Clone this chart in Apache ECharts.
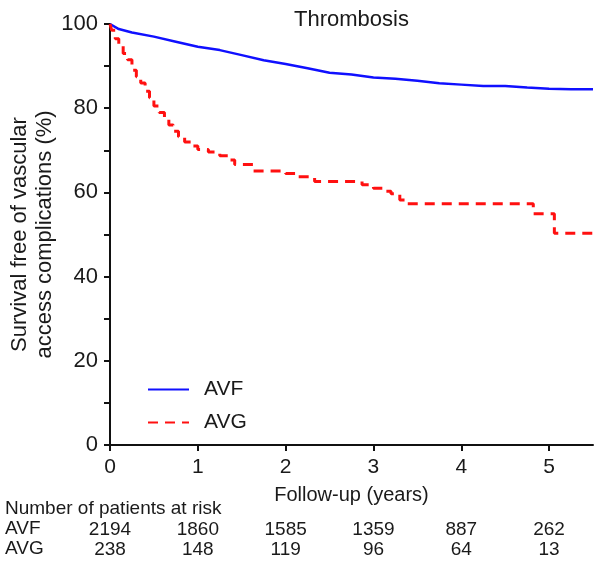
<!DOCTYPE html>
<html>
<head>
<meta charset="utf-8">
<script src="https://cdn.jsdelivr.net/npm/echarts@6/dist/echarts.min.js"></script>
<style>html,body{margin:0;padding:0;background:#fff}#c{width:596px;height:566px}</style>
</head>
<body>
<div id="c"></div>
<script>
// Kaplan-Meier curves: [years, survival %]
var avfCurve = [[0,100],[0.1,98.8],[0.25,98.0],[0.5,97.0],[0.75,95.8],[1,94.6],[1.25,93.8],[1.5,92.6],[1.75,91.4],[2,90.5],[2.25,89.5],[2.5,88.4],[2.75,88.0],[3,87.3],[3.25,87.0],[3.5,86.5],[3.75,85.9],[4,85.6],[4.25,85.3],[4.5,85.3],[4.75,84.9],[5,84.6],[5.25,84.5],[5.5,84.5]];
var avgCurve = [[0,100],[0.02,98.5],[0.06,96.5],[0.1,95],[0.15,93],[0.2,91.5],[0.25,89],[0.3,87.5],[0.35,86],[0.4,84],[0.45,82.5],[0.5,80.5],[0.56,79],[0.62,77.5],[0.67,76],[0.72,74.5],[0.78,73.2],[0.85,72],[0.93,71],[1.0,70.2],[1.12,69.6],[1.25,68.7],[1.35,67.7],[1.42,66.6],[1.63,65.1],[2.0,64.5],[2.12,63.7],[2.33,62.6],[2.87,61.8],[3.0,61.0],[3.12,60.3],[3.2,59.7],[3.3,58.2],[3.36,57.3],[4.82,54.9],[5.06,50.3],[5.5,50.3]];
var seriesNames = ['AVF','AVG'];
var riskYears = [0,1,2,3,4,5];
var riskAVF = [2194,1860,1585,1359,887,262];
var riskAVG = [238,148,119,96,64,13];

var FONT = 'Liberation Sans, Arial, sans-serif';
var TXT = '#1a1a1a';
var chart = echarts.init(document.getElementById('c'), null, {renderer:'canvas'});

function riskAxis(values, margin){
  return {
    type:'value', gridIndex:0, position:'bottom', min:0, max:5.5,
    axisLine:{show:false}, axisTick:{show:false}, splitLine:{show:false},
    axisLabel:{show:true, margin:margin, fontFamily:FONT, fontSize:19, color:TXT,
      customValues: riskYears,
      formatter:function(v){ var i = riskYears.indexOf(Math.round(v)); return (i>=0 && Math.abs(v-Math.round(v))<1e-6) ? String(values[i]) : ''; }}
  };
}

chart.setOption({
  animation:false,
  backgroundColor:'#fff',
  title:{text:'Thrombosis', left:289, top:4, textStyle:{fontFamily:FONT, fontSize:22, fontWeight:'normal', color:TXT}},
  grid:{left:110, top:24, right:3, bottom:121, containLabel:false, outerBoundsMode:'none'},
  legend:{orient:'vertical', left:142, top:374, itemWidth:41, itemHeight:20, itemGap:12,
    data:seriesNames,
    itemStyle:{opacity:0},
    textStyle:{fontFamily:FONT, fontSize:21, color:TXT, padding:[0,0,0,10]}},
  xAxis:[{
    type:'value', min:0, max:5.5, interval:1,
    name:'Follow-up (years)', nameLocation:'middle', nameGap:40, nameMoveOverlap:false,
    nameTextStyle:{fontFamily:FONT, fontSize:20, color:TXT},
    axisLine:{lineStyle:{color:'#111', width:2}},
    axisTick:{show:true, length:6, lineStyle:{color:'#111', width:2}, customValues:riskYears},
    axisLabel:{fontFamily:FONT, fontSize:21, color:TXT, margin:12, customValues:riskYears},
    splitLine:{show:false}
  }, riskAxis(riskAVF, 75), riskAxis(riskAVG, 95)],
  yAxis:{
    type:'value', min:0, max:100, interval:20,
    name:'Survival free of vascular\naccess complications (%)', nameLocation:'middle', nameGap:53, nameMoveOverlap:false,
    nameTextStyle:{fontFamily:FONT, fontSize:22, color:TXT, lineHeight:25},
    axisLine:{show:true, lineStyle:{color:'#111', width:2}},
    axisTick:{show:true, length:6, lineStyle:{color:'#111', width:2}},
    minorTick:{show:true, splitNumber:2, length:6, lineStyle:{color:'#111', width:2}},
    axisLabel:{fontFamily:FONT, fontSize:22, color:TXT, margin:12},
    splitLine:{show:false}
  },
  graphic:[
    {type:'text', left:5, top:499, style:{text:'Number of patients at risk', font:'19px '+FONT, fill:TXT}},
    {type:'text', left:5, top:519, style:{text:seriesNames[0], font:'19px '+FONT, fill:TXT}},
    {type:'text', left:5, top:539, style:{text:seriesNames[1], font:'19px '+FONT, fill:TXT}}
  ],
  series:[
    {name:seriesNames[0], type:'line', data:avfCurve, showSymbol:false, symbol:'none', smooth:false,
      lineStyle:{color:'#1010ff', width:2.5}, itemStyle:{color:'#1010ff'}},
    {name:seriesNames[1], type:'line', data:avgCurve, step:'end', showSymbol:false, symbol:'none',
      lineStyle:{color:'#ff1010', width:3, type:[10,7]}, itemStyle:{color:'#ff1010'}}
  ]
});
</script>
</body>
</html>
